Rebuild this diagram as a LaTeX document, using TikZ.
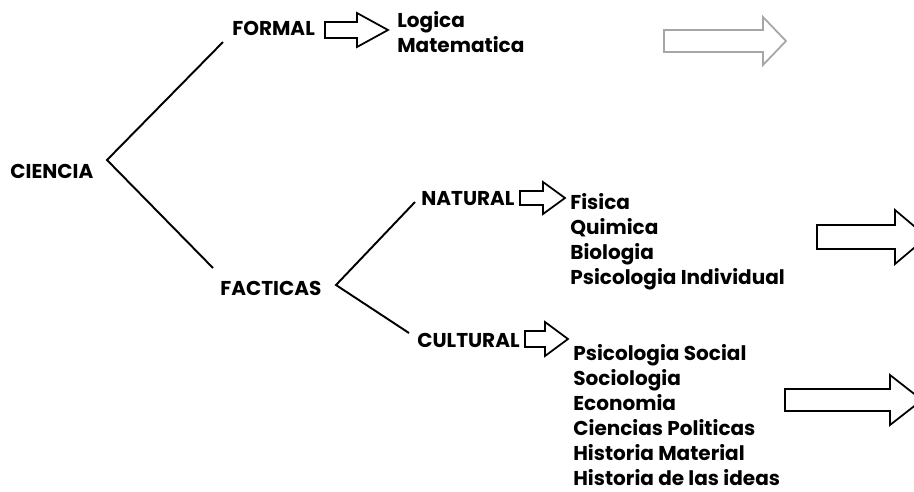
\documentclass[tikz,border=0pt]{standalone}
\usepackage{fontspec}
\setmainfont{Poppins}
\usetikzlibrary{positioning}

% hollow block arrow: start, length, shaft half width, head half width, head length, style
\newcommand{\blockarrow}[6]{%
  \begin{scope}[shift={(#1)}]
    \draw[#6] (0,-#3) -- (#2-#5,-#3) -- (#2-#5,-#4) -- (#2,0)
      -- (#2-#5,#4) -- (#2-#5,#3) -- (0,#3) -- cycle;
  \end{scope}}

\tikzset{
  word/.style={anchor=base west, inner sep=0pt, font=\bfseries\fontsize{11.4}{13}\selectfont},
  branch/.style={line width=1.1pt},
  hollow/.style={line width=1pt, fill=white},
}

\begin{document}
\begin{tikzpicture}[x=0.02cm, y=-0.02cm]
      \useasboundingbox (0,0) rectangle (914,491);
      \clip (0,0) rectangle (914,491);

      \node[word] (ciencia) at (10,178) {CIENCIA};
      \node[word] (formal) at (232,35) {FORMAL};
      \node[word] (facticas) at (220,295) {FACTICAS};
      \node[word] (natural) at (421,205) {NATURAL};
      \node[word] (cultural) at (417,347) {CULTURAL};

      \node[word] (logica) at (397,27) {Logica};
      \node[word] (matematica) at (397,52) {Matematica};

      \foreach \t [count=\i] in {Fisica, Quimica, Biologia, Psicologia Individual}
        \node[word] (nat\i) at (570,209+25*\i-25) {\t};

      \foreach \t [count=\i] in {Psicologia Social, Sociologia, Economia,
          Ciencias Politicas, Historia Material, Historia de las ideas}
        \node[word] (cul\i) at (573,360+25*\i-25) {\t};

      % tree lines
      \coordinate (v1) at (107,160);
      \coordinate (f1) at (223,42);
      \coordinate (f2) at (213,268);
      \coordinate (v2) at (336,285);
      \coordinate (n1) at (415,202);
      \coordinate (c1) at (409,333);
      \draw[branch] (f1) -- (v1) -- (f2);
      \draw[branch] (n1) -- (v2) -- (c1);

      % block arrows
      \blockarrow{325,30}{63}{8}{17}{31}{hollow}
      \blockarrow{520,198}{45}{7}{16}{22}{hollow}
      \blockarrow{525,339}{43}{8}{17}{23}{hollow}
      \blockarrow{664,41}{122}{11}{24}{23}{hollow, draw=black!35}
      \blockarrow{817,237}{110}{12}{27}{32}{hollow}
      \blockarrow{785,400}{137}{11}{25}{32}{hollow}
\end{tikzpicture}
\end{document}
